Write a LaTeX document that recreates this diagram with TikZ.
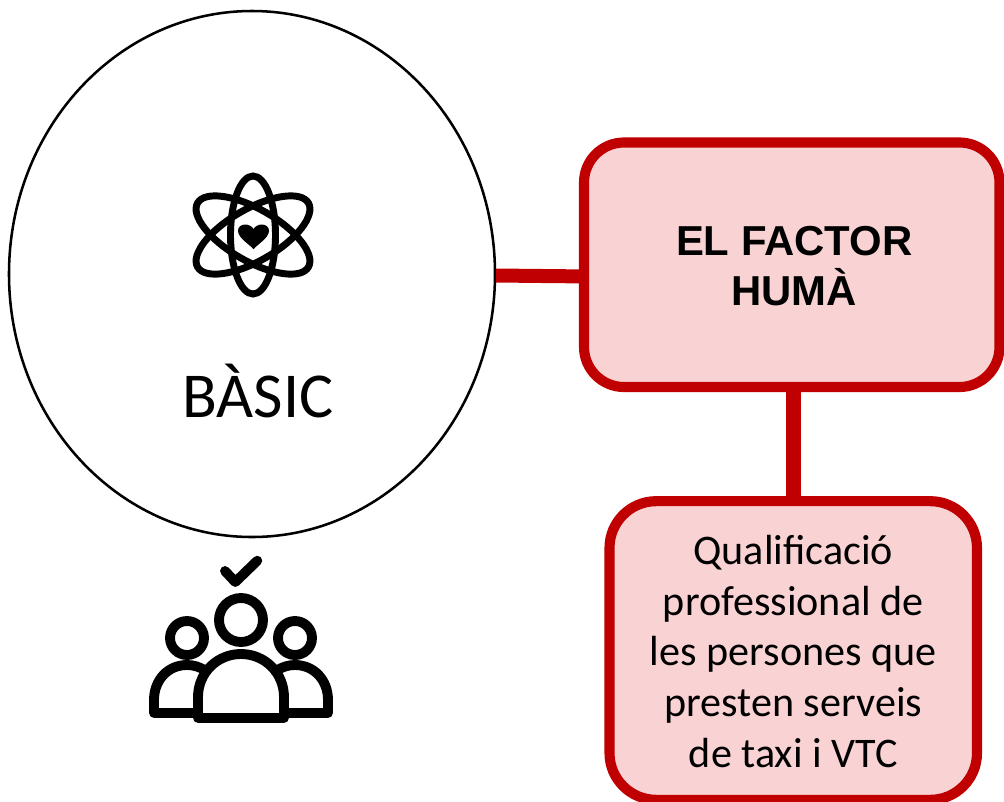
\documentclass[tikz,border=0pt]{standalone}
\usepackage{fontspec}
\setmainfont{Carlito}
\newfontfamily\arialf{Liberation Sans}
\usetikzlibrary{shapes.geometric,calc}
\definecolor{boxred}{HTML}{C00000}
\definecolor{boxpink}{HTML}{F9D2D3}
\tikzset{
  x=0.75pt,y=-0.75pt,
  bigcircle/.style={draw=black,line width=1.9pt,ellipse,inner sep=0pt,minimum width=364.5pt,minimum height=394.5pt},
  redbox/.style={draw=boxred,fill=boxpink,line width=7.6pt,inner sep=0pt},
  boxtext/.style={align=center,inner sep=0pt},
  link/.style={draw=boxred},
  iconline/.style={draw=black,line width=5.2pt},
  heartshape/.style={fill=black,draw=black,line width=0.8pt,line join=round},
  peopleline/.style={draw=black,line width=7.4pt,line cap=round,line join=round,fill=white},
}
\begin{document}
\begin{tikzpicture}
\useasboundingbox (0,0) rectangle (1004,801);
\node[bigcircle] (basic) at (252,274) {};
\node[font=\fontsize{48}{56}\selectfont] (basictxt) at (258,391) {BÀSIC};
% connectors
\coordinate (h1) at (496,275.5);
\coordinate (h2) at (590,276.5);
\coordinate (v1) at (793.5,385);
\coordinate (v2) at (793.5,505);
\draw[link,line width=10.5pt] (h1) -- (h2);
\draw[link,line width=11pt] (v1) -- (v2);
% boxes
\node[redbox,rounded corners=30pt,minimum width=311.6pt,minimum height=183.4pt] (factor) at (791.75,264.75) {};
\node[boxtext,font=\arialf\bfseries\fontsize{31.4}{37.5}\selectfont] (factortxt) at (794.25,266.5) {EL FACTOR\\HUMÀ};
\node[redbox,rounded corners=35pt,minimum width=275.6pt,minimum height=224pt] (qual) at (793.25,650.5) {};
\node[boxtext,font=\fontsize{31.6}{38.2}\selectfont] (qualtxt) at (793.25,651.5) {Qualificació\\professional de\\les persones que\\presten serveis\\de taxi i VTC};
% atom icon
\draw[iconline] (253,235) ellipse [x radius=22.5,y radius=59];
\foreach \a in {60,120}{
  \draw[iconline,rotate around={\a:(253,235)}] (253,235) ellipse [x radius=26,y radius=64];
}
\draw[heartshape] (253.5,248.5) .. controls (250,244) and (239,238) .. (238.5,231) .. controls (238.5,223.5) and (250,223) .. (253.5,230) .. controls (257,223) and (268.5,223.5) .. (268.5,231) .. controls (268,238) and (257,244) .. (253.5,248.5) -- cycle;
% people icon
\draw[peopleline,fill=none] (225,571) -- (235.3,582) -- (257.3,560.7);
\draw[peopleline] (187,638) circle [radius=17];
\draw[peopleline] (295,638) circle [radius=17];
\draw[peopleline] (241,620) circle [radius=22];
\draw[peopleline] (205,713) -- (154,713) -- (154,700) .. controls (154,680) and (168,665) .. (187,665) .. controls (194,665) and (200,667) .. (206,671);
\draw[peopleline] (277,713) -- (328,713) -- (328,700) .. controls (328,680) and (314,665) .. (295,665) .. controls (288,665) and (282,667) .. (276,671);
\draw[peopleline] (198,718) -- (198,697) .. controls (198,673) and (217,654) .. (241,654) .. controls (265,654) and (284,673) .. (284,697) -- (284,718) -- cycle;
\end{tikzpicture}
\end{document}
